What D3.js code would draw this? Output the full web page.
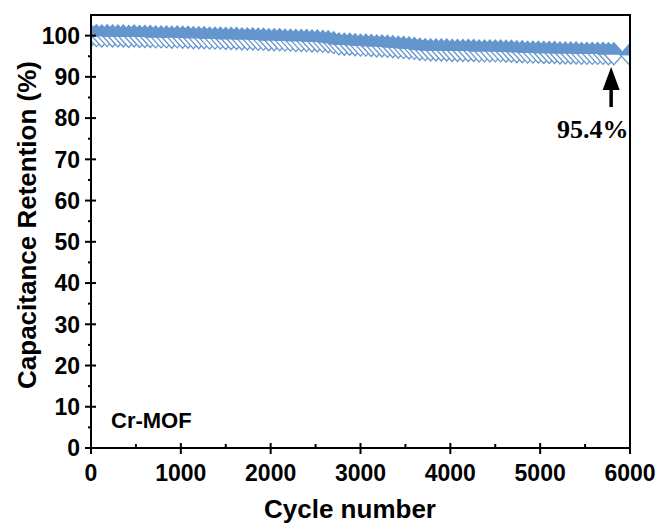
<!DOCTYPE html>
<html>
<head>
<meta charset="utf-8">
<script src="https://cdn.jsdelivr.net/npm/d3@7"></script>
<style>
  html, body { margin: 0; padding: 0; background: #fff; }
  svg { display: block; }
  .tick-label { font-family: "Liberation Sans", Arial, sans-serif; font-weight: bold; font-size: 23px; fill: #000; }
  .axis-title { font-family: "Liberation Sans", Arial, sans-serif; font-weight: bold; font-size: 26px; fill: #000; }
</style>
</head>
<body>
<svg id="chart" width="662" height="529"></svg>
<script>
// Cycle numbers at which retention was recorded
const cycles = [
  0, 60, 120, 180, 240, 300, 360, 420, 480, 540,
  600, 660, 720, 780, 840, 900, 960, 1020, 1080, 1140,
  1200, 1260, 1320, 1380, 1440, 1500, 1560, 1620, 1680, 1740,
  1800, 1860, 1920, 1980, 2040, 2100, 2160, 2220, 2280, 2340,
  2400, 2460, 2520, 2580, 2640, 2700, 2760, 2820, 2880, 2940,
  3000, 3060, 3120, 3180, 3240, 3300, 3360, 3420, 3480, 3540,
  3600, 3660, 3720, 3780, 3840, 3900, 3960, 4020, 4080, 4140,
  4200, 4260, 4320, 4380, 4440, 4500, 4560, 4620, 4680, 4740,
  4800, 4860, 4920, 4980, 5040, 5100, 5160, 5220, 5280, 5340,
  5400, 5460, 5520, 5580, 5640, 5700, 5760, 5820, 6000
];

// Capacitance retention (%) for each recorded cycle
const retention = [
  100.0, 100.0, 99.9, 100.0, 99.9, 99.9, 99.9, 99.8, 99.9, 99.8,
  99.8, 99.8, 99.7, 99.7, 99.7, 99.6, 99.7, 99.6, 99.6, 99.5,
  99.5, 99.5, 99.4, 99.4, 99.4, 99.3, 99.3, 99.3, 99.2, 99.2,
  99.2, 99.1, 99.1, 99.0, 99.0, 99.0, 98.9, 98.9, 98.8, 98.8,
  98.8, 98.7, 98.7, 98.6, 98.5, 98.3, 98.0, 97.9, 97.9, 97.8,
  97.7, 97.7, 97.6, 97.5, 97.5, 97.4, 97.3, 97.2, 97.1, 97.0,
  96.9, 96.7, 96.6, 96.5, 96.5, 96.5, 96.5, 96.4, 96.4, 96.4,
  96.4, 96.4, 96.3, 96.3, 96.3, 96.3, 96.3, 96.2, 96.2, 96.1,
  96.1, 96.0, 96.0, 96.0, 95.9, 95.9, 95.9, 95.8, 95.8, 95.8,
  95.8, 95.7, 95.7, 95.7, 95.7, 95.7, 95.6, 95.6, 95.4
];

const xTicks = [0, 1000, 2000, 3000, 4000, 5000, 6000];
const xMinorTicks = [500, 1500, 2500, 3500, 4500, 5500];
const yTicks = [0, 10, 20, 30, 40, 50, 60, 70, 80, 90, 100];
const yMinorTicks = [5, 15, 25, 35, 45, 55, 65, 75, 85, 95];

const sampleName = "Cr-MOF";
const finalLabel = "95.4%";
const finalLabelCycle = 5790;   // where the annotation arrow sits

const data = cycles.map((c, i) => ({ cycle: c, value: retention[i] }));

const margin = { left: 91, right: 32, top: 15, bottom: 81 };
const width = 662, height = 529;
const plotW = width - margin.left - margin.right;
const plotH = height - margin.top - margin.bottom;

const svg = d3.select("#chart");
const g = svg.append("g").attr("transform", `translate(${margin.left},${margin.top})`);

g.append("clipPath").attr("id", "plot-clip")
  .append("rect").attr("x", 0).attr("y", 0).attr("width", plotW).attr("height", plotH);

const x = d3.scaleLinear().domain([0, 6000]).range([0, plotW]);
const y = d3.scaleLinear().domain([0, 105]).range([plotH, 0]);

const blue = "#6496cd";

// Markers: half-up diamonds (upper half filled, lower half open)
const hw = 10, hh = 11;
const marks = g.append("g").attr("clip-path", "url(#plot-clip)");
data.forEach(d => {
  const cx = x(d.cycle), cy = y(d.value);
  const m = marks.append("g").attr("transform", `translate(${cx},${cy})`);
  m.append("path")
    .attr("d", `M${-hw},0 L0,${hh} L${hw},0 Z`)
    .attr("fill", "#fff").attr("stroke", blue).attr("stroke-width", 1.3)
    .attr("stroke-linejoin", "miter");
  m.append("path")
    .attr("d", `M${-hw},0 L0,${-hh} L${hw},0 Z`)
    .attr("fill", blue).attr("stroke", blue).attr("stroke-width", 1.3);
});

// Frame
g.append("rect").attr("x", 0).attr("y", 0).attr("width", plotW).attr("height", plotH)
  .attr("fill", "none").attr("stroke", "#000").attr("stroke-width", 2);

// X axis ticks (major crossing the axis line, minor pointing inward)
const xa = g.append("g").attr("transform", `translate(0,${plotH})`);
xa.selectAll("line.major").data(xTicks).join("line")
  .attr("x1", d => x(d)).attr("x2", d => x(d)).attr("y1", -5).attr("y2", 6)
  .attr("stroke", "#000").attr("stroke-width", 2);
xa.selectAll("line.minor").data(xMinorTicks).join("line")
  .attr("class", "minor")
  .attr("x1", d => x(d)).attr("x2", d => x(d)).attr("y1", 0).attr("y2", -4)
  .attr("stroke", "#000").attr("stroke-width", 2);
xa.selectAll("text").data(xTicks).join("text")
  .attr("class", "tick-label")
  .attr("x", d => x(d)).attr("y", 33)
  .attr("text-anchor", "middle")
  .text(d => d);

// Y axis ticks (major crossing the axis line, minor pointing outward)
const ya = g.append("g");
ya.selectAll("line.major").data(yTicks).join("line")
  .attr("x1", -6).attr("x2", 5).attr("y1", d => y(d)).attr("y2", d => y(d))
  .attr("stroke", "#000").attr("stroke-width", 2);
ya.selectAll("line.minor").data(yMinorTicks).join("line")
  .attr("class", "minor")
  .attr("x1", 0).attr("x2", -3).attr("y1", d => y(d)).attr("y2", d => y(d))
  .attr("stroke", "#000").attr("stroke-width", 2);
ya.selectAll("text").data(yTicks).join("text")
  .attr("class", "tick-label")
  .attr("x", -11).attr("y", d => y(d))
  .attr("dy", "0.36em")
  .attr("text-anchor", "end")
  .text(d => d);

// Axis titles
svg.append("text").attr("class", "axis-title")
  .attr("x", 350).attr("y", 518).attr("text-anchor", "middle")
  .text("Cycle number");
svg.append("text").attr("class", "axis-title")
  .attr("transform", "translate(36,225) rotate(-90)")
  .attr("text-anchor", "middle")
  .text("Capacitance Retention (%)");

// Sample name
g.append("text").attr("class", "axis-title")
  .style("font-size", "22px")
  .attr("x", 20).attr("y", 413)
  .text(sampleName);

// Arrow pointing at the final retention value
const ax = x(finalLabelCycle);
const arrow = g.append("g");
arrow.append("line")
  .attr("x1", ax).attr("x2", ax).attr("y1", 92).attr("y2", 70)
  .attr("stroke", "#000").attr("stroke-width", 3.5);
arrow.append("path")
  .attr("d", `M${ax - 8.5},${75} L${ax},${52} L${ax + 8.5},${75} Z`)
  .attr("fill", "#000");

g.append("text")
  .attr("x", 466).attr("y", 123)
  .style("font-family", "'Liberation Serif', 'Times New Roman', serif")
  .style("font-weight", "bold")
  .style("font-size", "26px")
  .text(finalLabel);
</script>
</body>
</html>
